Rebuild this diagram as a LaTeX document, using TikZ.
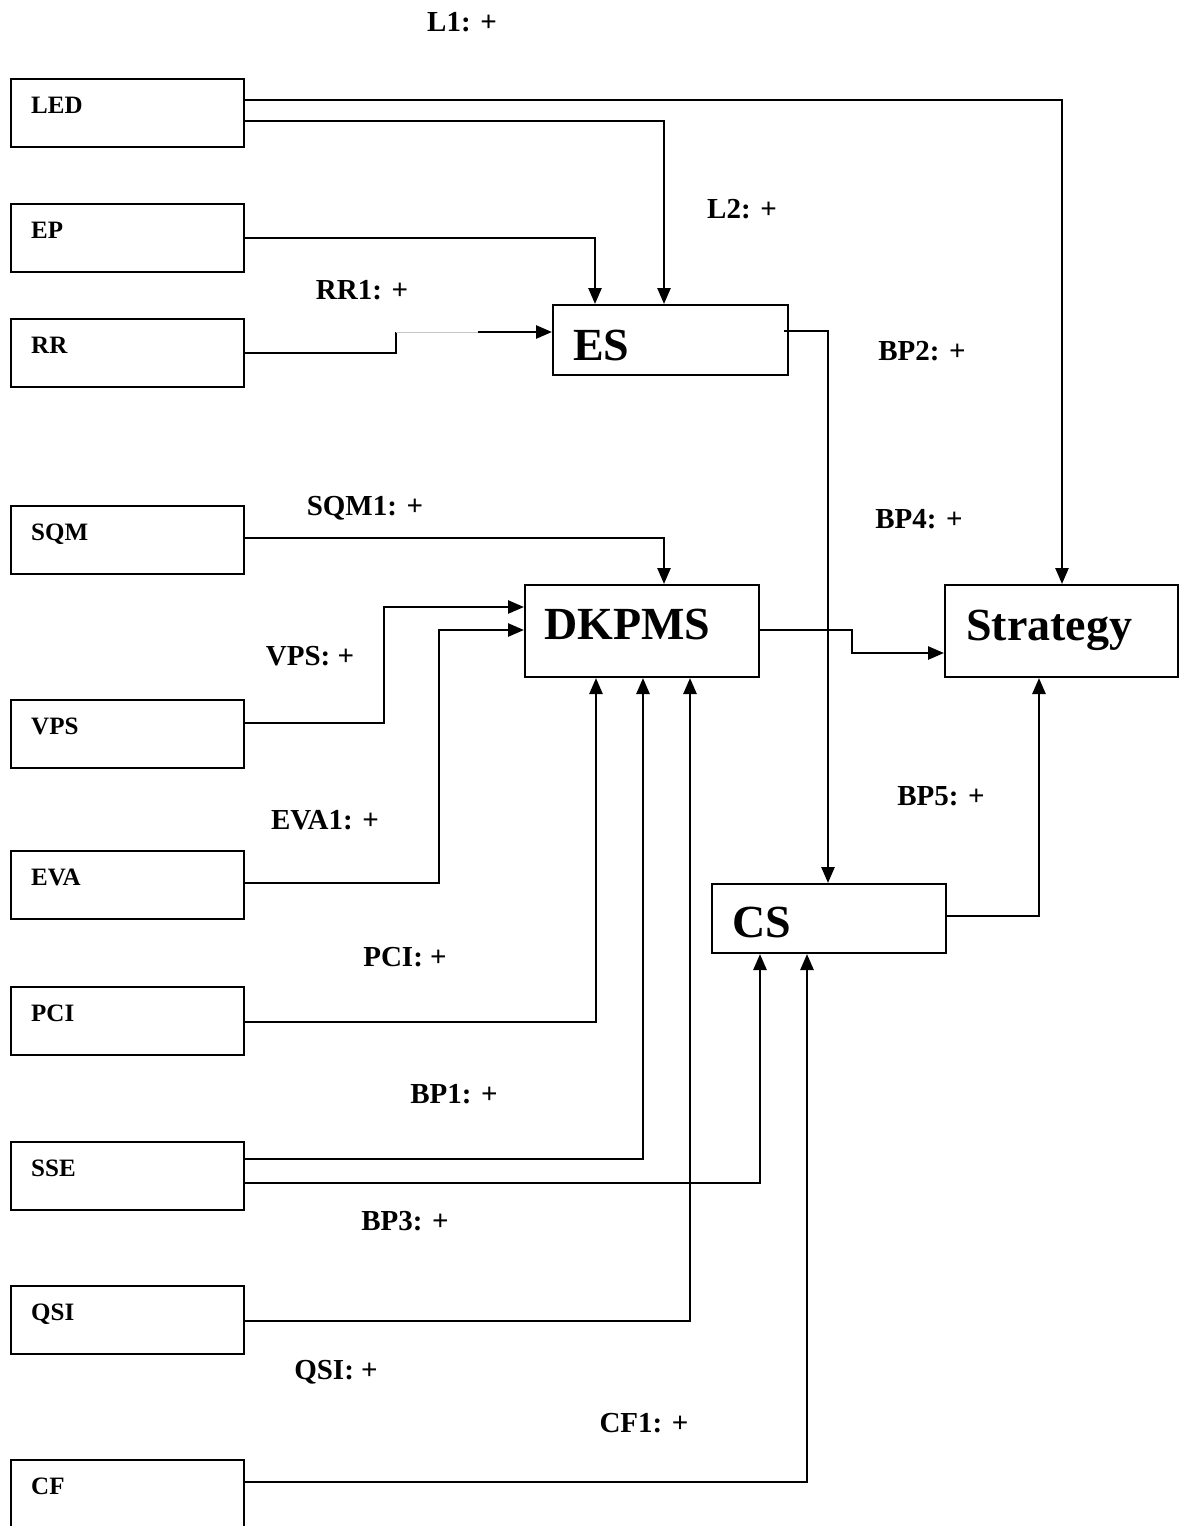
\documentclass[tikz,border=0pt]{standalone}
\usepackage{fontspec}
\setmainfont{Liberation Serif}
\usetikzlibrary{arrows.meta}
\begin{document}
\begin{tikzpicture}[x=1pt,y=-1pt,
  box/.style={draw,line width=2pt,minimum width=233pt,minimum height=68pt,inner sep=0,anchor=north west},
  bigbox/.style={draw,line width=2pt,inner sep=0,anchor=north west},
  boxtxt/.style={anchor=base west,inner sep=0,font=\fontsize{25}{30}\selectfont\bfseries},
  bigtxt/.style={anchor=base west,inner sep=0,font=\fontsize{46}{52}\selectfont\bfseries},
  lbl/.style={inner sep=0,font=\fontsize{29}{34}\selectfont\bfseries},
  conn/.style={line width=2.6pt},
  arr/.style={conn,-{Triangle[length=16pt,width=13pt]}}
]
\useasboundingbox (0,0) rectangle (1178,1526);
% left boxes
\node[box] (led) at (10,78) {};
\node[boxtxt] (ledt) at (31,113) {LED};
\node[box] (ep) at (10,203) {};
\node[boxtxt] (ept) at (31,238) {EP};
\node[box] (rr) at (10,318) {};
\node[boxtxt] (rrt) at (31,353) {RR};
\node[box] (sqm) at (10,505) {};
\node[boxtxt] (sqmt) at (31,540) {SQM};
\node[box] (vps) at (10,699) {};
\node[boxtxt] (vpst) at (31,734) {VPS};
\node[box] (eva) at (10,850) {};
\node[boxtxt] (evat) at (31,885) {EVA};
\node[box] (pci) at (10,986) {};
\node[boxtxt] (pcit) at (31,1021) {PCI};
\node[box] (sse) at (10,1141) {};
\node[boxtxt] (sset) at (31,1176) {SSE};
\node[box] (qsi) at (10,1285) {};
\node[boxtxt] (qsit) at (31,1320) {QSI};
\node[box,minimum height=90pt] (cf) at (10,1459) {};
\node[boxtxt] (cft) at (31,1494) {CF};
% main boxes
\node[bigbox,minimum width=235pt,minimum height=70pt] (es) at (552,304) {};
\node[bigtxt] (est) at (573,360) {ES};
\node[bigbox,minimum width=234pt,minimum height=92pt] (dk) at (524,584) {};
\node[bigtxt] (dkt) at (544,639) {DKPMS};
\node[bigbox,minimum width=233pt,minimum height=92pt] (strat) at (944,584) {};
\node[bigtxt] (stratt) at (966,640) {Strategy};
\node[bigbox,minimum width=234pt,minimum height=69pt] (cs) at (711,883) {};
\node[bigtxt] (cst) at (732,937) {CS};
% connectors
\draw[arr] ([yshift=-22pt]led.north east) -| ([xshift=118pt]strat.north west);
\draw[arr] ([yshift=-43pt]led.north east) -| ([xshift=112pt]es.north west);
\draw[arr] ([yshift=-35pt]ep.north east) -| ([xshift=43pt]es.north west);
\coordinate (rrk) at (396,332);
\coordinate (rrg) at (478,332);
\draw[conn] ([yshift=-35pt]rr.north east) -| (rrk);
\draw[line width=0.8pt,gray!45] (rrk) -- (rrg);
\draw[arr] (rrg) -- ([yshift=-28pt]es.north west);
\draw[arr] ([xshift=-5pt,yshift=-27pt]es.north east) -| ([xshift=117pt]cs.north west);
\draw[arr] ([yshift=-33pt]sqm.north east) -| ([xshift=140pt]dk.north west);
\draw[arr] ([yshift=-24pt]vps.north east) -| ([xshift=-140pt,yshift=-23pt]dk.north west) -- ([yshift=-23pt]dk.north west);
\draw[arr] ([yshift=-33pt]eva.north east) -| ([xshift=-85pt,yshift=-46pt]dk.north west) -- ([yshift=-46pt]dk.north west);
\draw[arr] ([yshift=-36pt]pci.north east) -| ([xshift=72pt]dk.south west);
\draw[arr] ([yshift=-18pt]sse.north east) -| ([xshift=119pt]dk.south west);
\draw[arr] ([yshift=-42pt]sse.north east) -| ([xshift=49pt]cs.south west);
\draw[arr] ([yshift=-36pt]qsi.north east) -| ([xshift=166pt]dk.south west);
\draw[arr] ([yshift=-23pt]cf.north east) -| ([xshift=96pt]cs.south west);
\draw[arr] ([yshift=-46pt]dk.north east) -- ([xshift=92pt,yshift=-46pt]dk.north east) |- ([yshift=-69pt]strat.north west);
\draw[arr] ([yshift=-33pt]cs.north east) -| ([xshift=95pt]strat.south west);
% labels
\node[lbl] (l1) at (462,22) {L1: +};
\node[lbl] (l2) at (742,209) {L2: +};
\node[lbl] (rr1) at (362,290) {RR1: +};
\node[lbl] (bp2) at (922,351) {BP2: +};
\node[lbl] (sqm1) at (365,508) {SQM1: +};
\node[lbl] (bp4) at (919,519) {BP4: +};
\node[lbl] (vpsl) at (310,656) {VPS: +};
\node[lbl] (eva1) at (325,820) {EVA1: +};
\node[lbl] (pcil) at (405,957) {PCI: +};
\node[lbl] (bp1) at (454,1094) {BP1: +};
\node[lbl] (bp3) at (405,1221) {BP3: +};
\node[lbl] (qsil) at (336,1372) {QSI: +};
\node[lbl] (cf1) at (644,1423) {CF1: +};
\node[lbl] (bp5) at (941,796) {BP5: +};
\end{tikzpicture}
\end{document}
